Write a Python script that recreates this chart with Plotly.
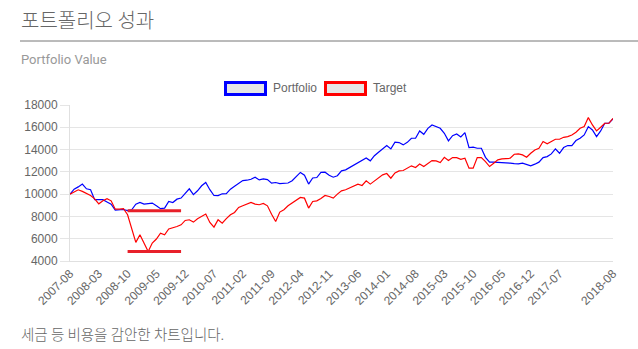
import plotly.graph_objects as go

# Monthly observations, 2007-08 .. 2018-08
start_year, start_month, n_months = 2007, 8, 133
categories = []
for k in range(n_months):
    m = start_month - 1 + k
    categories.append(f"{start_year + m // 12}-{m % 12 + 1:02d}")

portfolio = [
    10000, 10450, 10650, 10900, 10480, 10400, 9500, 9500, 9500, 9300,
    9100, 8570, 8600, 8620, 8520, 8600, 9100, 9250, 9100, 9130,
    9200, 8950, 8700, 8750, 9350, 9250, 9550, 9650, 10100, 10480,
    9950, 10300, 10750, 11050, 10400, 9880, 9870, 10030, 10050, 10450,
    10700, 10990, 11220, 11250, 11340, 11520, 11280, 11370, 11300, 10990,
    11045, 10950, 10950, 11000, 11200, 11550, 11950, 11700, 10900, 11450,
    11490, 11950, 11970, 11700, 11520, 11650, 12090, 12180, 12390, 12600,
    12780, 13000, 13250, 12990, 13450, 13760, 14100, 14360, 14060, 14660,
    14630, 14420, 14650, 15015, 15015, 15670, 15370, 15910, 16210, 16050,
    15910, 15460, 14780, 15250, 15400, 15130, 15520, 14180, 14210, 14120,
    14120, 13300, 12870, 12870, 12860, 12850, 12840, 12780, 12740, 12720,
    12780, 12630, 12540, 12690, 12870, 13280, 13370, 13610, 14060, 13670,
    14180, 14360, 14360, 14810, 15020, 15310, 16060, 15760, 15160, 15670,
    16360, 16360, 16750,
]

target = [
    10000, 10200, 10390, 10250, 10060, 9880, 9580, 9130, 9400, 9600,
    9400, 8650, 8650, 8690, 8150, 6800, 5670, 6360, 5670, 4850,
    5610, 5970, 6500, 6350, 6880, 6970, 7100, 7250, 7640, 7700,
    7490, 7790, 8000, 8210, 7460, 7040, 7700, 7400, 7800, 8150,
    8360, 8810, 8960, 9100, 9250, 9100, 9050, 9160, 8950, 8200,
    7550, 8390, 8600, 8950, 9200, 9400, 9700, 9640, 8750, 9340,
    9400, 9600, 9880, 9790, 9640, 10000, 10300, 10390, 10540, 10720,
    10900, 10780, 11190, 10900, 11190, 11430, 11730, 11850, 11430, 11910,
    12090, 12120, 12330, 12540, 12390, 12700, 12480, 12780, 13015, 12985,
    12840, 13310, 13015, 13280, 13280, 13130, 13220, 12330, 12330, 13280,
    13280, 12925, 12480, 12780, 13075, 13160, 13220, 13220, 13580, 13610,
    13520, 13310, 13670, 13970, 14120, 14720, 14510, 14720, 14925, 14925,
    15100, 15160, 15310, 15550, 15910, 16060, 16870, 16210, 15670, 16000,
    16360, 16360, 16810,
]

tick_labels = [
    "2007-08", "2008-03", "2008-10", "2009-05", "2009-12", "2010-07",
    "2011-02", "2011-09", "2012-04", "2012-11", "2013-06", "2014-01",
    "2014-08", "2015-03", "2015-10", "2016-05", "2016-12", "2017-07",
    "2018-08",
]
y_ticks = [4000, 6000, 8000, 10000, 12000, 14000, 16000, 18000]

# Drawdown band: span of the low-water markers
band_start, band_end = "2008-10", "2009-11"

series_names = ["Portfolio", "Target"]
series_colors = ["#0000ff", "#ff0000"]

W, H = 638, 349
L, R, T, B = 70, 613, 105, 261


def fx(x):
    return (x - L) / (R - L)


def fy(y):
    return (B - y) / (B - T)


fig = go.Figure()
for name, vals, col in zip(series_names, [portfolio, target], series_colors):
    fig.add_trace(go.Scatter(
        x=categories, y=vals, mode="lines", name=name,
        line=dict(color=col, width=1.2), showlegend=False,
    ))

shapes = []
# low-water markers
for vals in (portfolio, target):
    lo = min(vals)
    shapes.append(dict(type="line", xref="x", yref="y",
                       x0=band_start, x1=band_end, y0=lo, y1=lo,
                       line=dict(color="#e8202a", width=3)))

# header rule
shapes.append(dict(type="line", xref="paper", yref="paper",
                   x0=fx(20), x1=fx(638), y0=fy(41), y1=fy(41),
                   line=dict(color="#777777", width=1)))

annotations = [
    dict(text="포트폴리오 성과", x=fx(19), y=fy(19), xref="paper", yref="paper",
         xanchor="left", yanchor="middle", showarrow=False,
         font=dict(family="Noto Sans CJK KR, Roboto", size=20, color="#666666",
                   weight=300)),
    dict(text="Portfolio Value", x=fx(19), y=fy(60), xref="paper", yref="paper",
         xanchor="left", yanchor="middle", showarrow=False,
         font=dict(family="Roboto, Noto Sans", size=13, color="#999999")),
    dict(text="세금 등 비용을 감안한 차트입니다.", x=fx(19), y=fy(333),
         xref="paper", yref="paper", xanchor="left", yanchor="middle",
         showarrow=False,
         font=dict(family="Noto Sans CJK KR, Roboto", size=14.5, color="#666666",
                   weight=300)),
]

# legend drawn as bordered boxes with labels
legend_x = [225.5, 325.5]
for name, col, lx in zip(series_names, series_colors, legend_x):
    shapes.append(dict(type="rect", xref="paper", yref="paper",
                       x0=fx(lx), x1=fx(lx + 40), y0=fy(82.5), y1=fy(94.5),
                       fillcolor="#e6e6e6", line=dict(color=col, width=3)))
    annotations.append(dict(text=name, x=fx(lx + 45.5), y=fy(88.5),
                            xref="paper", yref="paper", xanchor="left",
                            yanchor="middle", showarrow=False,
                            font=dict(family="Liberation Sans, Arial", size=12,
                                      color="#666666")))

tick_font = dict(family="Liberation Sans, Arial", size=12, color="#666666")

fig.update_layout(
    width=W, height=H, autosize=False,
    margin=dict(l=L, r=W - R, t=T, b=H - B, pad=0),
    paper_bgcolor="white", plot_bgcolor="white",
    shapes=shapes, annotations=annotations,
    xaxis=dict(type="category", range=[0, len(categories) - 1],
               tickmode="array", tickvals=tick_labels, ticktext=tick_labels,
               tickangle=-45, showgrid=False, zeroline=False,
               showline=True, linecolor="#e0e0e0", ticks="",
               tickfont=tick_font),
    yaxis=dict(range=[4000, 18000], tickmode="array", tickvals=y_ticks,
               ticktext=[str(v) for v in y_ticks], showgrid=True,
               gridcolor="#e5e5e5", zeroline=False, showline=True,
               linecolor="#e0e0e0", ticks="outside", ticklen=9,
               tickcolor="#e5e5e5", tickfont=tick_font),
)

fig.write_html("out.html")
